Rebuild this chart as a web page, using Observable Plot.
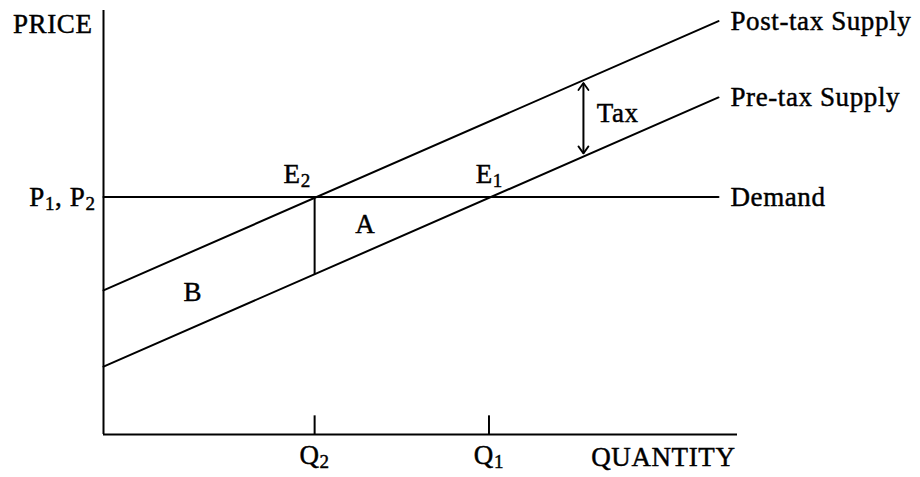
<!DOCTYPE html>
<html><head><meta charset="utf-8">
<script src="https://cdn.jsdelivr.net/npm/d3@7"></script>
<script src="https://cdn.jsdelivr.net/npm/@observablehq/plot@0.6"></script>
<style>body{margin:0;background:#fff}</style>
</head><body><div id="chart"></div>
<script>
// Data (price / quantity units, axes run 0-100)
const supplyQuantity = [0, 97];
const preTaxSupply = [16, 79.5];
const postTaxSupply = [34, 97.5];
const demandQuantity = [0, 97];
const demandPrice = [56, 56];
const quantityTicks = [33.3, 60.8];
const quantityTickLabels = ["Q₂", "Q₁"];
const priceTicks = [56];
const priceTickLabels = ["P₁, P₂"];
const wedgeQuantity = [33.3];
const wedgeBottom = [37.7];
const wedgeTop = [56];
const taxArrowQuantity = [75.7];
const taxArrowFrom = [66.3];
const taxArrowTo = [82.9];
const pointLabels = ["E₂", "E₁", "A", "B", "Tax"];
const pointLabelQuantity = [28.4, 58.7, 39.7, 12.6, 77.8];
const pointLabelPrice = [59.4, 59.4, 47.6, 31.6, 73.6];
const curveNames = ["Post-tax Supply", "Pre-tax Supply", "Demand"];
const axisNames = ["PRICE", "QUANTITY"];

const ink = "#000";
const serif = "Liberation Serif";
const curveEndQuantity = [supplyQuantity[1], supplyQuantity[1], demandQuantity[1]];
const curveEndPrice = [postTaxSupply[1], preTaxSupply[1], demandPrice[1]];
const toPoints = (xs, ys) => xs.map((x, i) => ({x, y: ys[i]}));

function chevron(color) {
  return d3.create("svg:marker")
    .attr("viewBox", "-10 -10 20 20")
    .attr("markerWidth", 20)
    .attr("markerHeight", 20)
    .attr("markerUnits", "userSpaceOnUse")
    .attr("orient", "auto-start-reverse")
    .attr("fill", "none")
    .attr("stroke", color)
    .attr("stroke-width", 1.8)
    .attr("stroke-linecap", "round")
    .attr("stroke-linejoin", "round")
    .call(m => m.append("path").attr("d", "M-7,-5L0,0L-7,5"))
    .node();
}

const textOpts = {fill: ink, fontSize: 27, fontFamily: serif};

const chart = Plot.plot({
  width: 920,
  height: 477,
  marginLeft: 103,
  marginRight: 183,
  marginTop: 10,
  marginBottom: 43,
  x: {domain: [0, 100]},
  y: {domain: [0, 100]},
  style: {fontFamily: serif, fontSize: "27px", color: ink, background: "#fff", overflow: "visible"},
  marks: [
    Plot.ruleX([0], {stroke: ink, strokeWidth: 2}),
    Plot.ruleY([0], {stroke: ink, strokeWidth: 2}),
    Plot.axisX({ticks: quantityTicks, tickSize: 0, tickPadding: 10, label: null, fontSize: 27, fontFamily: serif,
      tickFormat: d => quantityTickLabels[quantityTicks.indexOf(d)]}),
    Plot.axisY({ticks: priceTicks, tickSize: 0, tickPadding: 8, label: null, fontSize: 27, fontFamily: serif,
      tickFormat: d => priceTickLabels[priceTicks.indexOf(d)]}),
    Plot.ruleX(quantityTicks, {y1: 0, y2: 4.4, stroke: ink, strokeWidth: 2}),
    Plot.line(toPoints(supplyQuantity, preTaxSupply), {x: "x", y: "y", stroke: ink, strokeWidth: 2}),
    Plot.line(toPoints(supplyQuantity, postTaxSupply), {x: "x", y: "y", stroke: ink, strokeWidth: 2}),
    Plot.line(toPoints(demandQuantity, demandPrice), {x: "x", y: "y", stroke: ink, strokeWidth: 2}),
    Plot.ruleX(wedgeQuantity, {y1: (d, i) => wedgeBottom[i], y2: (d, i) => wedgeTop[i], stroke: ink, strokeWidth: 2}),
    Plot.link(taxArrowQuantity, {x1: d => d, x2: d => d, y1: (d, i) => taxArrowFrom[i], y2: (d, i) => taxArrowTo[i],
      stroke: ink, strokeWidth: 2, markerStart: chevron, markerEnd: chevron}),
    Plot.text(pointLabels, {x: (d, i) => pointLabelQuantity[i], y: (d, i) => pointLabelPrice[i], text: d => d,
      textAnchor: "start", lineAnchor: "bottom", ...textOpts}),
    Plot.text(curveNames, {x: (d, i) => curveEndQuantity[i], y: (d, i) => curveEndPrice[i], text: d => d,
      textAnchor: "start", lineAnchor: "middle", dx: 12, ...textOpts}),
    Plot.text([axisNames[0]], {frameAnchor: "top-left", text: d => d, textAnchor: "end", lineAnchor: "bottom",
      dx: -11, dy: 22, ...textOpts}),
    Plot.text([axisNames[1]], {frameAnchor: "bottom-right", text: d => d, textAnchor: "end", lineAnchor: "bottom",
      dx: -2, dy: 31, ...textOpts})
  ]
});

// Render Unicode subscript digits as real lowered, smaller digits
const subs = {"₀": "0", "₁": "1", "₂": "2", "₃": "3"};
chart.querySelectorAll("text").forEach(node => {
  if (node.querySelector("tspan")) return;
  const s = node.textContent;
  if (!/[₀-₉]/.test(s)) return;
  node.textContent = "";
  let pending = 0;
  for (const ch of s) {
    const span = document.createElementNS("http://www.w3.org/2000/svg", "tspan");
    if (subs[ch]) {
      span.textContent = subs[ch];
      span.setAttribute("font-size", "19");
      span.setAttribute("dy", String(4 - pending));
      pending = 4;
    } else {
      span.textContent = ch;
      if (pending) span.setAttribute("dy", String(-pending));
      pending = 0;
    }
    node.appendChild(span);
  }
});
// Heavier, slightly wider type like the printed original
chart.querySelectorAll("text").forEach(el => {
  el.setAttribute("letter-spacing", "0.6");
  el.setAttribute("stroke", ink);
  el.setAttribute("stroke-width", "0.45");
});

document.getElementById("chart").append(chart);
</script>
</body></html>
